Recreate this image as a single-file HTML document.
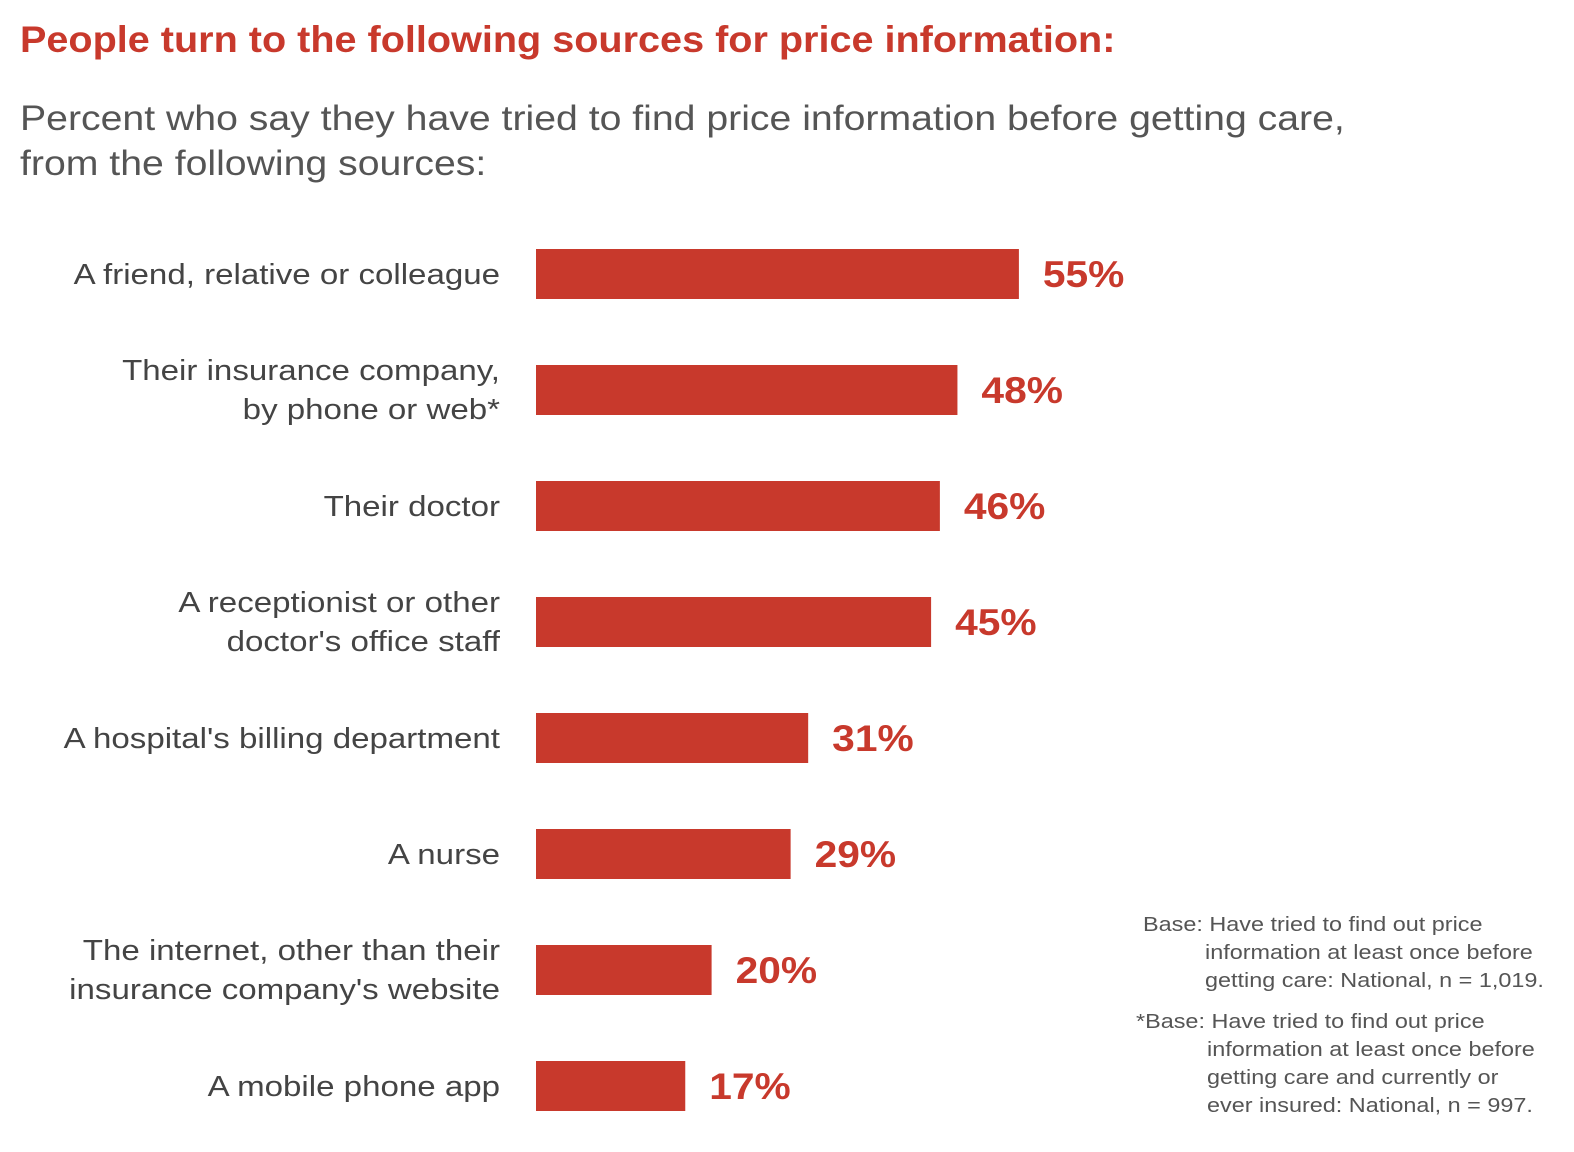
<!DOCTYPE html>
<html><head><meta charset="utf-8"><style>
body{margin:0;width:1574px;height:1152px;background:#fff;overflow:hidden;font-family:"Liberation Sans",sans-serif}
svg{display:block}
</style></head><body>
<svg id="chart" width="1574" height="1152">
<text x="20" y="52" font-size="37" font-weight="bold" fill="#c8392c" data-stretch="1.07">People turn to the following sources for price information:</text>
<text x="20" y="130" font-size="35" fill="#555" data-stretch="1.12">Percent who say they have tried to find price information before getting care,</text>
<text x="20" y="175" font-size="35" fill="#555" data-stretch="1.12">from the following sources:</text>
<g font-size="20" fill="#555">
<text x="1143" y="931" data-stretch="1.17">Base: Have tried to find out price</text>
<text x="1205" y="959" data-stretch="1.17">information at least once before</text>
<text x="1205" y="987" data-stretch="1.17">getting care: National, n = 1,019.</text>
<text x="1136" y="1028" data-stretch="1.17">*Base: Have tried to find out price</text>
<text x="1207" y="1056" data-stretch="1.17">information at least once before</text>
<text x="1207" y="1084" data-stretch="1.17">getting care and currently or</text>
<text x="1207" y="1112" data-stretch="1.17">ever insured: National, n = 997.</text>
</g>
<g id="bars"></g>
</svg>
<script>
const categories = [
  ["A friend, relative or colleague"],
  ["Their insurance company,","by phone or web*"],
  ["Their doctor"],
  ["A receptionist or other","doctor's office staff"],
  ["A hospital's billing department"],
  ["A nurse"],
  ["The internet, other than their","insurance company's website"],
  ["A mobile phone app"]
];
const values = [55, 48, 46, 45, 31, 29, 20, 17];
const valueLabels = ["55%","48%","46%","45%","31%","29%","20%","17%"];

const x0 = 536, pxPer = 8.78;
const xScale = v => x0 + v * pxPer;
const yScale = i => 249 + i * 116;
const barH = 50;
const NS = "http://www.w3.org/2000/svg";
const g = document.getElementById('bars');
values.forEach((v, i) => {
  const y = yScale(i);
  const r = document.createElementNS(NS, 'rect');
  r.setAttribute('x', x0); r.setAttribute('y', y);
  r.setAttribute('width', xScale(v) - x0); r.setAttribute('height', barH);
  r.setAttribute('fill', '#c8392c');
  
  
  g.appendChild(r);
  const t = document.createElementNS(NS, 'text');
  t.setAttribute('x', xScale(v) + 24); t.setAttribute('y', y + barH / 2 + 13);
  t.setAttribute('font-size', '37'); t.setAttribute('font-weight', 'bold'); t.setAttribute('fill', '#c8392c');
  t.setAttribute('data-stretch', '1.1');
  t.textContent = valueLabels[i];
  
  
  g.appendChild(t);
  const lines = categories[i];
  lines.forEach((ln, j) => {
    const c = document.createElementNS(NS, 'text');
    const cy = y + barH / 2 + 10 + (lines.length === 2 ? (j === 0 ? -20 : 19) : 0);
    c.setAttribute('x', 500); c.setAttribute('y', cy);
    c.setAttribute('text-anchor', 'end'); c.setAttribute('font-size', '29'); c.setAttribute('fill', '#444');
    c.setAttribute('data-stretch', '1.14');
    c.textContent = ln;
    
    
    g.appendChild(c);
  });
});
document.querySelectorAll('text[data-stretch]').forEach(t => {
  const f = parseFloat(t.getAttribute('data-stretch'));
  const len = t.getComputedTextLength();
  t.setAttribute('textLength', (len * f).toFixed(1));
  t.setAttribute('lengthAdjust', 'spacingAndGlyphs');
});
</script>
</body></html>
